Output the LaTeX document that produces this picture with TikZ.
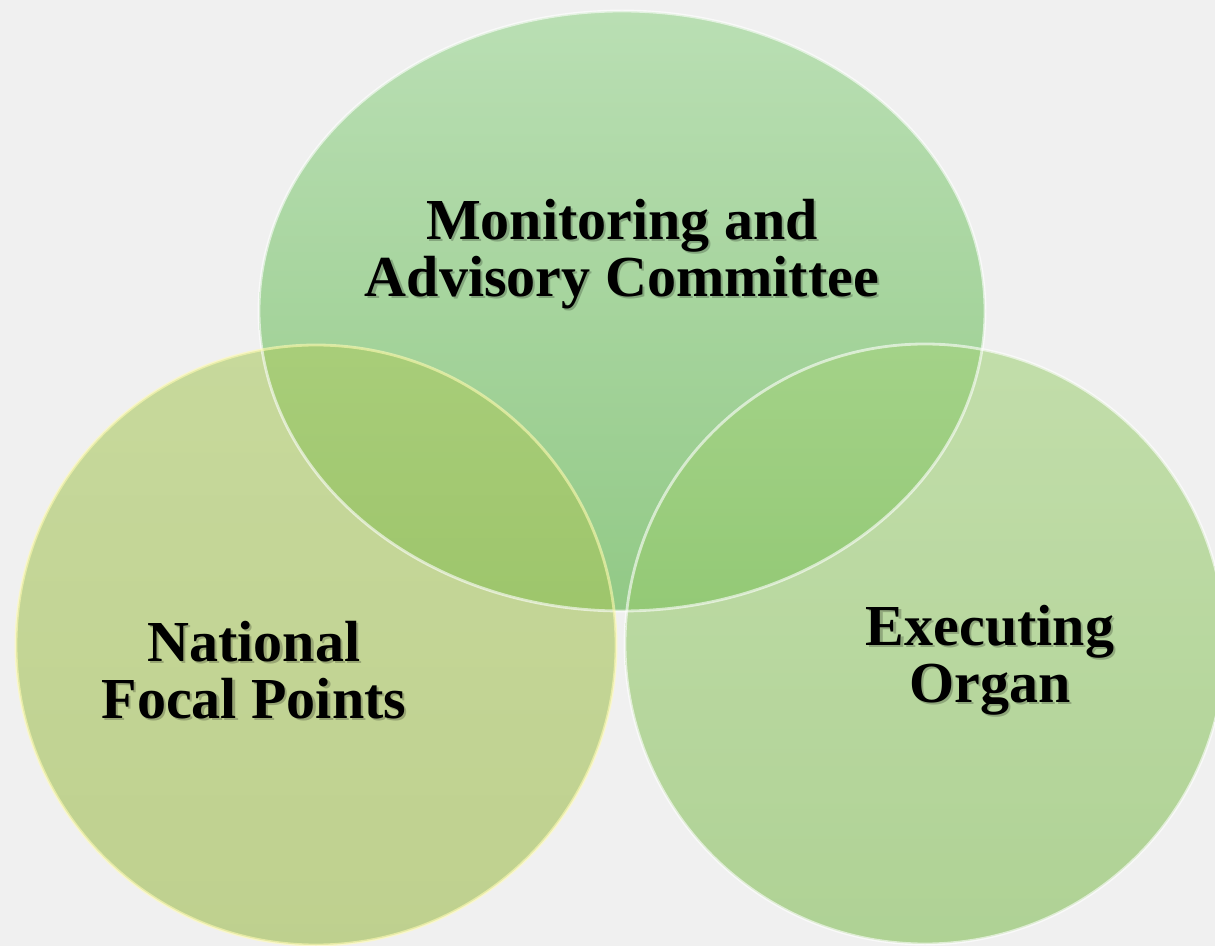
\documentclass[tikz,border=0pt]{standalone}
\usepackage{fontspec}
\setmainfont{Liberation Serif}
\definecolor{bgcol}{RGB}{240,240,240}
\definecolor{topA}{RGB}{150,212,140}
\definecolor{topB}{RGB}{84,176,64}
\definecolor{leftA}{RGB}{172,202,100}
\definecolor{leftB}{RGB}{158,188,78}
\definecolor{rightA}{RGB}{164,210,124}
\definecolor{rightB}{RGB}{132,190,88}
\begin{document}
\begin{tikzpicture}[x=.01cm, y=-.01cm,
    lbl/.style={align=center, font=\fontsize{16.5}{16.2}\selectfont\bfseries},
    lblshadow/.style={lbl, text=black, text opacity=.22, xshift=.6pt, yshift=-.7pt},
    rim/.style={draw=white, draw opacity=.6, line width=.8pt}]
  \def\r{300}
  \def\rtop{363}

  \useasboundingbox (0,0) rectangle (1215,946);
  \fill [bgcol] (0,0) rectangle (1215,946);
  \clip (0,0) rectangle (1215,946);

  \shade [top color=topA, bottom color=topB, fill opacity=.6] (622,311) ellipse [x radius=\rtop, y radius=\r];
  \shade [top color=leftA, bottom color=leftB, fill opacity=.6] (316,645) circle [radius=\r];
  \shade [top color=rightA, bottom color=rightB, fill opacity=.6] (925,644) circle [radius=\r];

  \draw [rim] (622,311) ellipse [x radius=\rtop, y radius=\r];
  \draw [rim, draw=yellow!30] (316,645) circle [radius=\r];
  \draw [rim] (925,644) circle [radius=\r];

  \node [lblshadow] (monitoringshadow) at (622,254) {Monitoring and\\Advisory Committee};
  \node [lbl] (monitoring) at (622,254) {Monitoring and\\Advisory Committee};
  \node [lblshadow] (nationalshadow) at (254,670) {National\\Focal Points};
  \node [lbl] (national) at (254,670) {National\\Focal Points};
  \node [lblshadow] (executingshadow) at (990,660) {Executing\\Organ};
  \node [lbl] (executing) at (990,660) {Executing\\Organ};
\end{tikzpicture}
\end{document}
